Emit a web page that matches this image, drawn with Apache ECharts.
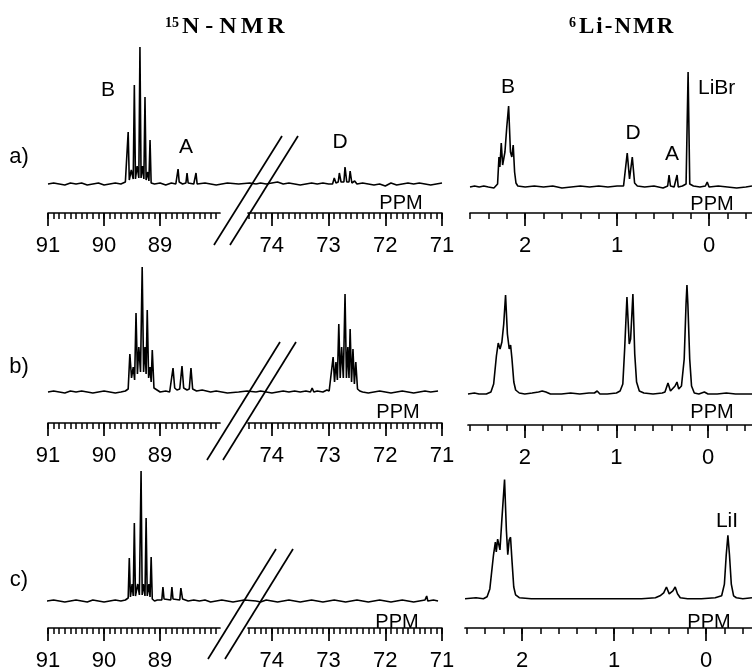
<!DOCTYPE html>
<html><head><meta charset="utf-8">
<script src="https://cdn.jsdelivr.net/npm/echarts@6/dist/echarts.min.js"></script>
<style>html,body{margin:0;padding:0;background:#fff}#c{width:752px;height:672px}</style>
</head><body><div id="c"></div>
<script>
// ---------- data (ppm, intensity) ----------
const n15TicksLeft = [91, 90, 89];
const n15TicksRight = [74, 73, 72, 71];
const li6Ticks = [2, 1, 0];
const rowNames = ['a)', 'b)', 'c)'];
const titleIsotopes = ['15', '6'];
const titleNames = ['N-NMR', 'Li-NMR'];

const nA_left = [[91.0,0],[90.9,1],[90.8,0],[90.7,-1],[90.6,1],[90.5,0],[90.4,1],[90.3,-1],[90.2,0],[90.1,1],[90.0,-1],[89.9,0],[89.8,1],[89.7,0],[89.62,2],[89.59,2],[89.57,52],[89.55,4],[89.515,14],[89.48,5],[89.46,99],[89.44,5],[89.41,18],[89.38,6],[89.36,137],[89.34,6],[89.315,18],[89.29,5],[89.27,87],[89.25,4],[89.22,12],[89.2,3],[89.18,44],[89.16,1],[89.1,0],[89.0,1],[88.9,-1],[88.8,1],[88.72,0],[88.7,1],[88.68,15],[88.66,2],[88.6,0],[88.54,1],[88.52,11],[88.5,1],[88.4,0],[88.38,1],[88.36,11],[88.34,0],[88.2,1],[88.1,0],[88.0,-1],[87.9,0],[87.8,1],[87.6,0],[87.4,1],[87.29,0]];
const nA_right = [[74.28,0],[74.2,1],[74.1,0],[74.0,1],[73.9,2],[73.8,0],[73.7,1],[73.6,0],[73.5,-1],[73.4,0],[73.3,1],[73.2,0],[73.1,1],[73.0,0],[72.93,0],[72.9,6],[72.87,1],[72.83,2],[72.81,11],[72.78,2],[72.73,2],[72.71,17],[72.68,2],[72.64,2],[72.62,13],[72.59,1],[72.54,3],[72.5,0],[72.4,1],[72.3,0],[72.2,-1],[72.1,0],[72.0,-2],[71.9,1],[71.8,-1],[71.7,0],[71.6,1],[71.5,0],[71.4,1],[71.3,0],[71.2,-1],[71.1,0],[71.0,1]];
const nB_left = [[91.0,0],[90.9,1],[90.8,0],[90.7,-1],[90.6,1],[90.5,0],[90.4,1],[90.3,0],[90.2,-1],[90.1,0],[90.0,1],[89.9,0],[89.8,-1],[89.7,0],[89.62,1],[89.57,3],[89.54,38],[89.51,14],[89.48,25],[89.455,12],[89.43,79],[89.405,18],[89.38,45],[89.35,20],[89.32,125],[89.295,20],[89.27,45],[89.25,18],[89.23,82],[89.205,14],[89.18,25],[89.16,10],[89.14,42],[89.11,4],[89.08,2],[89.0,0],[88.9,1],[88.83,0],[88.8,2],[88.77,24],[88.74,4],[88.7,2],[88.65,3],[88.61,26],[88.58,4],[88.52,2],[88.48,3],[88.45,24],[88.42,3],[88.35,1],[88.25,2],[88.1,0],[88.0,1],[87.9,0],[87.8,-1],[87.6,0],[87.45,1],[87.29,0]];
const nB_right = [[74.28,0],[74.2,1],[74.1,0],[74.0,-1],[73.9,0],[73.8,1],[73.7,0],[73.6,1],[73.5,0],[73.4,1],[73.32,0],[73.29,4],[73.26,0],[73.2,1],[73.1,0],[73.03,2],[72.99,1],[72.96,3],[72.92,35],[72.895,10],[72.87,30],[72.845,12],[72.82,68],[72.795,14],[72.77,45],[72.74,14],[72.71,98],[72.685,14],[72.66,45],[72.64,14],[72.62,63],[72.595,10],[72.57,43],[72.545,8],[72.52,30],[72.49,3],[72.45,1],[72.4,0],[72.3,-1],[72.2,0],[72.1,1],[72.0,0],[71.9,-1],[71.8,0],[71.7,1],[71.6,0],[71.5,-1],[71.4,0],[71.3,1],[71.2,0],[71.07,1]];
const nC_left = [[91.02,0],[90.9,1],[90.8,0],[90.7,-1],[90.6,0],[90.5,1],[90.4,0],[90.3,-1],[90.2,1],[90.1,0],[90.0,-1],[89.9,0],[89.8,1],[89.7,0],[89.62,1],[89.57,3],[89.55,43],[89.53,4],[89.5,17],[89.48,5],[89.46,78],[89.44,5],[89.4,17],[89.37,6],[89.34,130],[89.32,6],[89.3,17],[89.27,5],[89.25,83],[89.23,5],[89.2,17],[89.18,4],[89.16,44],[89.14,2],[89.1,0],[89.05,1],[88.97,1],[88.95,14],[88.93,2],[88.81,1],[88.79,14],[88.77,2],[88.65,1],[88.63,13],[88.6,2],[88.5,0],[88.4,1],[88.3,0],[88.2,1],[88.1,-1],[88.0,0],[87.9,1],[87.8,0],[87.7,-1],[87.5,1],[87.29,0]];
const nC_right = [[74.28,0],[74.2,-1],[74.1,1],[74.0,0],[73.9,-1],[73.8,0],[73.7,1],[73.6,0],[73.5,-1],[73.4,0],[73.3,1],[73.2,0],[73.1,-1],[73.0,0],[72.9,1],[72.8,0],[72.7,-1],[72.6,0],[72.5,1],[72.4,0],[72.3,-1],[72.2,0],[72.1,1],[72.0,0],[71.9,-1],[71.8,0],[71.7,1],[71.6,0],[71.5,-1],[71.4,0],[71.3,1],[71.27,5],[71.25,0],[71.15,1],[71.07,0]];

const liA = [[2.6,0],[2.55,1],[2.5,0],[2.45,1],[2.4,0],[2.34,-1],[2.3,3],[2.285,30],[2.275,20],[2.26,44],[2.245,22],[2.22,35],[2.2,60],[2.18,81],[2.16,35],[2.145,30],[2.13,42],[2.115,15],[2.1,4],[2.08,1],[2.0,0],[1.9,1],[1.8,0],[1.7,1],[1.6,-1],[1.5,0],[1.4,1],[1.3,0],[1.2,1],[1.1,0],[1.0,1],[0.93,1],[0.91,2],[0.89,34],[0.865,8],[0.835,30],[0.81,4],[0.78,1],[0.7,0],[0.6,1],[0.5,-1],[0.45,1],[0.435,12],[0.42,1],[0.38,0],[0.348,12],[0.335,0],[0.29,1],[0.25,3],[0.228,115],[0.21,3],[0.17,1],[0.1,0],[0.04,1],[0.02,5],[0.0,0],[-0.1,1],[-0.2,0],[-0.3,-1],[-0.4,0],[-0.467,1]];
const liB = [[2.62,0],[2.55,1],[2.5,0],[2.42,0],[2.37,2],[2.34,10],[2.31,38],[2.29,51],[2.27,45],[2.25,52],[2.23,70],[2.21,99],[2.19,60],[2.17,45],[2.155,49],[2.14,35],[2.12,12],[2.1,4],[2.06,1],[2.0,0],[1.92,1],[1.85,2],[1.81,3],[1.77,2],[1.72,0],[1.6,0],[1.5,1],[1.4,0],[1.3,1],[1.24,1],[1.21,3],[1.18,0],[1.1,0],[1.0,1],[0.96,3],[0.93,10],[0.91,45],[0.885,97],[0.86,50],[0.845,55],[0.82,100],[0.8,40],[0.78,12],[0.75,3],[0.7,1],[0.6,0],[0.5,1],[0.47,2],[0.437,11],[0.41,3],[0.39,3],[0.36,8],[0.339,12],[0.32,5],[0.29,8],[0.26,35],[0.24,90],[0.23,109],[0.22,90],[0.2,35],[0.18,8],[0.15,1],[0.1,0],[0.04,2],[0.0,0],[-0.1,0],[-0.2,1],[-0.3,0],[-0.48,0]];
const liC = [[2.62,0],[2.5,1],[2.42,0],[2.38,2],[2.35,10],[2.31,45],[2.29,58],[2.28,48],[2.265,61],[2.24,50],[2.22,80],[2.19,122],[2.17,70],[2.155,45],[2.14,60],[2.125,63],[2.11,40],[2.09,12],[2.07,4],[2.03,1],[1.9,0],[1.6,0],[1.3,0],[1.0,0],[0.7,0],[0.55,1],[0.5,3],[0.46,6],[0.43,12],[0.4,5],[0.385,4],[0.36,8],[0.335,12],[0.31,5],[0.28,1],[0.2,0],[0.05,0],[-0.1,1],[-0.17,3],[-0.2,15],[-0.22,45],[-0.238,65],[-0.255,45],[-0.275,15],[-0.3,3],[-0.33,1],[-0.4,0],[-0.5,1]];

const n15Series = [[nA_left, nA_right], [nB_left, nB_right], [nC_left, nC_right]];
const li6Series = [liA, liB, liC];

// ---------- layout ----------
const rowsLayout = [
  {b15: 184, ax15: 213, bLi: 187, axLi: 213, liLeft: 470, liMin: -0.467, liMax: 2.6},
  {b15: 392, ax15: 423, bLi: 394, axLi: 425, liLeft: 468, liMin: -0.48, liMax: 2.62},
  {b15: 601, ax15: 631, bLi: 603, axLi: 633, liLeft: 465, liMin: -0.5, liMax: 2.62}
];
const seg = {
  traceL: {left: 48, right: 256, min: 87.29, max: 91},
  traceR: {left: 256, right: 442, min: 71, max: 74.28},
  axisL: {left: 48, right: 220, min: 87.93, max: 91},
  axisR: {left: 248, right: 442, min: 71, max: 74.42}
};
const W = 752, H = 672;
const FONT = '"Liberation Sans", Arial, sans-serif';
const SERIF = '"Liberation Serif", "Times New Roman", serif';

function stepValues(from, to, step) {
  const out = [];
  const n = Math.round((from - to) / step);
  for (let i = 0; i <= n; i++) out.push(Math.round((from - i * step) * 100) / 100);
  return out;
}

const grids = [], xAxes = [], yAxes = [], series = [];
function addGrid(left, right, top, height) {
  grids.push({left: left, width: right - left, top: top, height: height, containLabel: false});
  return grids.length - 1;
}
function hiddenY(gi, min, max) {
  yAxes.push({type: 'value', gridIndex: gi, min: min, max: max, show: false});
  return yAxes.length - 1;
}
function hiddenX(gi, min, max) {
  xAxes.push({type: 'value', gridIndex: gi, min: min, max: max, inverse: true, show: false});
  return xAxes.length - 1;
}
function tickAxes(gi, min, max, majors, minors) {
  xAxes.push({
    type: 'value', gridIndex: gi, min: min, max: max, inverse: true, position: 'bottom',
    axisLine: {show: true, onZero: false, lineStyle: {color: '#000', width: 1.7}},
    axisTick: {show: true, customValues: majors, length: 13, lineStyle: {color: '#000', width: 1.7}},
    axisLabel: {show: true, customValues: majors, margin: 22, fontSize: 22, fontFamily: FONT, color: '#000'},
    splitLine: {show: false}
  });
  xAxes.push({
    type: 'value', gridIndex: gi, min: min, max: max, inverse: true, position: 'bottom',
    axisLine: {show: false, onZero: false},
    axisTick: {show: true, customValues: minors, length: 6, lineStyle: {color: '#000', width: 1.5}},
    axisLabel: {show: false},
    splitLine: {show: false}
  });
}
function addLine(xi, yi, data) {
  series.push({type: 'line', xAxisIndex: xi, yAxisIndex: yi, data: data, symbol: 'none', showSymbol: false,
    lineStyle: {color: '#000', width: 1.6}, animation: false, silent: true, clip: false});
}

const n15MinorL = stepValues(91, 88, 0.1);
const n15MinorR = stepValues(74.4, 71, 0.1);
const liMinor = stepValues(2.6, -0.4, 0.2);

rowsLayout.forEach((r, i) => {
  ['traceL', 'traceR'].forEach((k, j) => {
    const s = seg[k];
    const gi = addGrid(s.left, s.right, r.b15 - 180, 200);
    const xi = hiddenX(gi, s.min, s.max);
    const yi = hiddenY(gi, -20, 180);
    addLine(xi, yi, n15Series[i][j]);
  });
  [['axisL', n15TicksLeft, n15MinorL], ['axisR', n15TicksRight, n15MinorR]].forEach(([k, maj, mn]) => {
    const s = seg[k];
    const gi = addGrid(s.left, s.right, r.ax15 - 10, 10);
    hiddenY(gi, 0, 1);
    tickAxes(gi, s.min, s.max, maj, mn);
  });
  const gi = addGrid(r.liLeft, W, r.bLi - 180, r.axLi - r.bLi + 180);
  const yi = hiddenY(gi, -(r.axLi - r.bLi), 180);
  const xiStart = xAxes.length;
  tickAxes(gi, r.liMin, r.liMax, li6Ticks, liMinor);
  addLine(xiStart, yi, li6Series[i]);
});

// ---------- annotations ----------
function txt(x, y, text, size, opts) {
  opts = opts || {};
  return {type: 'text', x: x, y: y, silent: true, z: 100,
    style: Object.assign({text: text, font: (opts.weight || 'normal') + ' ' + size + 'px ' + (opts.family || FONT),
      fill: '#000', textAlign: opts.align || 'center', align: opts.align || 'center',
      textVerticalAlign: 'middle', verticalAlign: 'middle'}, opts.style || {})};
}
function seg2(x1, y1, x2, y2) {
  return {type: 'line', silent: true, z: 100, shape: {x1: x1, y1: y1, x2: x2, y2: y2},
    style: {stroke: '#000', lineWidth: 1.7}};
}
const graphics = [];
graphics.push(txt(165, 23, titleIsotopes[0], 14, {weight: 'bold', family: SERIF, align: 'left'}));
graphics.push({type: 'text', x: 180, y: 27, silent: true, style: {
  text: titleNames[0].split('').map(c => c === '-' ? '{h|-}' : '{t|' + c + '}').join(''),
  textVerticalAlign: 'middle', verticalAlign: 'middle', textAlign: 'left', align: 'left',
  rich: {t: {font: 'bold 24px ' + SERIF, fill: '#000', padding: [0, 2, 0, 2]},
         h: {font: 'bold 24px ' + SERIF, fill: '#000', padding: [0, 4, 0, 4]}}}});
graphics.push(txt(569, 23, titleIsotopes[1], 14, {weight: 'bold', family: SERIF, align: 'left'}));
graphics.push({type: 'text', x: 578, y: 27, silent: true, style: {
  text: titleNames[1].split('').map(c => '{t|' + c + '}').join(''),
  textVerticalAlign: 'middle', verticalAlign: 'middle', textAlign: 'left', align: 'left',
  rich: {t: {font: 'bold 23px ' + SERIF, fill: '#000', padding: [0, 1, 0, 1]}}}});
graphics.push(txt(19, 157, rowNames[0], 22));
graphics.push(txt(19, 367, rowNames[1], 22));
graphics.push(txt(19, 580, rowNames[2], 22));
graphics.push(txt(108, 90, 'B', 21));
graphics.push(txt(186, 147, 'A', 21));
graphics.push(txt(340, 142, 'D', 21));
graphics.push(txt(508, 87, 'B', 21));
graphics.push(txt(633, 133, 'D', 21));
graphics.push(txt(672, 154, 'A', 21));
graphics.push(txt(698, 88, 'LiBr', 21, {align: 'left'}));
graphics.push(txt(727, 521, 'LiI', 21));
[[401, 203], [398, 412], [397, 622], [712, 204], [712, 412], [709, 622]].forEach(p => graphics.push(txt(p[0], p[1], 'PPM', 20)));
[[282, 136, 214, 245], [298, 136, 230, 245],
 [280, 342, 207, 460], [296, 342, 223, 460],
 [276, 549, 208, 659], [293, 549, 225, 659]].forEach(b => graphics.push(seg2(b[0], b[1], b[2], b[3])));

const chart = echarts.init(document.getElementById('c'), null, {renderer: 'canvas'});
chart.setOption({
  animation: false,
  backgroundColor: '#fff',
  grid: grids, xAxis: xAxes, yAxis: yAxes, series: series,
  graphic: {elements: graphics}
});
</script></body></html>
